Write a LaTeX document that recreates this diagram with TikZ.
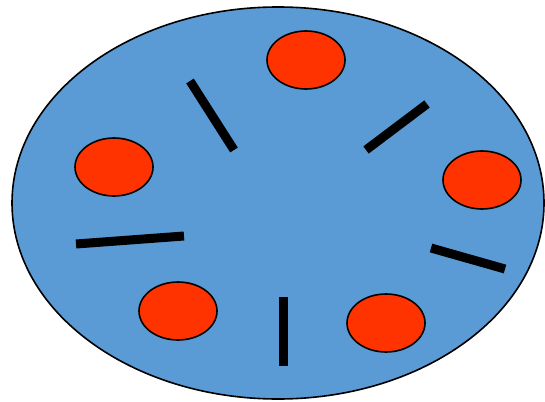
\documentclass[tikz,border=0pt]{standalone}
\usepackage{xcolor}
\definecolor{tableblue}{HTML}{5B9BD5}
\definecolor{platered}{HTML}{FF3300}
\begin{document}
\begin{tikzpicture}[x=1pt, y=-1pt,
    plate/.style={fill=platered, draw=black, line width=1.6pt},
    chopstick/.style={line width=9pt, black}]
  \useasboundingbox (0,0) rectangle (545,401);

  % ── Table ──
  \draw[fill=tableblue, draw=black, line width=1.6pt] (278,203) ellipse [x radius=266, y radius=196];

  % ── Plates ──
  \foreach \px/\py in {306/60, 482/180, 114/167, 178/311, 386/323} {
    \draw[plate] (\px,\py) ellipse [x radius=39, y radius=29];
  }

  % ── Chopsticks ──
  \foreach \ax/\ay/\bx/\by in
      {190/81/234/150, 366/150/427/104, 76/244/184/236,
       431/248/505/269, 283/297/283/366} {
    \draw[chopstick] (\ax,\ay) -- (\bx,\by);
  }
\end{tikzpicture}
\end{document}
